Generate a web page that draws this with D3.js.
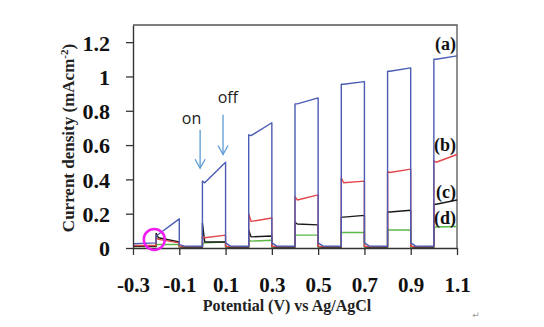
<!DOCTYPE html>
<html>
<head>
<meta charset="utf-8">
<script src="https://cdn.jsdelivr.net/npm/d3@7"></script>
<style>
  body { margin: 0; background: #fff; }
  svg { display: block; }
</style>
</head>
<body>
<svg id="chart" width="544" height="327"></svg>
<script>
const svg = d3.select("#chart");

// potential (V) breakpoints shared by all four curves
const potential = [
  -0.3,
  -0.2, -0.2, -0.19, -0.1, -0.1, -0.08,
  0.0, 0.0, 0.01, 0.1, 0.1, 0.12,
  0.2, 0.2, 0.21, 0.3, 0.3, 0.32,
  0.4, 0.4, 0.41, 0.5, 0.5, 0.52,
  0.6, 0.6, 0.61, 0.7, 0.7, 0.72,
  0.8, 0.8, 0.81, 0.9, 0.9, 0.92,
  1.0, 1.0, 1.01, 1.1
];

// current density (mA cm-2) for each sample
const seriesA = [
  0.025,
  0.03, 0.07, 0.08, 0.17, 0.02, 0.012,
  0.01, 0.39, 0.38, 0.5, 0.03, 0.012,
  0.01, 0.66, 0.655, 0.73, 0.03, 0.012,
  0.01, 0.84, 0.84, 0.875, 0.03, 0.012,
  0.01, 0.955, 0.955, 0.97, 0.03, 0.012,
  0.01, 1.03, 1.03, 1.05, 0.03, 0.012,
  0.01, 1.1, 1.1, 1.12
];
const seriesB = [
  0.015,
  0.015, 0.06, 0.05, 0.03, 0.01, 0.008,
  0.008, 0.07, 0.06, 0.075, 0.01, 0.008,
  0.008, 0.2, 0.155, 0.175, 0.01, 0.008,
  0.008, 0.3, 0.28, 0.31, 0.01, 0.008,
  0.008, 0.41, 0.38, 0.39, 0.01, 0.008,
  0.008, 0.445, 0.44, 0.46, 0.01, 0.008,
  0.008, 0.51, 0.5, 0.545
];
const seriesC = [
  0.01,
  0.01, 0.085, 0.06, 0.035, 0.008, 0.006,
  0.006, 0.145, 0.035, 0.035, 0.008, 0.006,
  0.006, 0.105, 0.065, 0.07, 0.008, 0.006,
  0.006, 0.15, 0.14, 0.135, 0.008, 0.006,
  0.006, 0.18, 0.18, 0.19, 0.008, 0.006,
  0.006, 0.21, 0.21, 0.22, 0.008, 0.006,
  0.006, 0.255, 0.255, 0.28
];
const seriesD = [
  0.008,
  0.008, 0.02, 0.02, 0.02, 0.005, 0.004,
  0.004, 0.025, 0.03, 0.035, 0.005, 0.004,
  0.004, 0.045, 0.04, 0.045, 0.005, 0.004,
  0.004, 0.075, 0.075, 0.075, 0.005, 0.004,
  0.004, 0.09, 0.09, 0.09, 0.005, 0.004,
  0.004, 0.105, 0.105, 0.105, 0.005, 0.004,
  0.004, 0.122, 0.122, 0.125
];

const seriesNames = ["(a)", "(b)", "(c)", "(d)"];
const seriesColors = ["#4a5cb4", "#e2474b", "#1a1a1a", "#5cb84a"];

const xTicks = [-0.3, -0.1, 0.1, 0.3, 0.5, 0.7, 0.9, 1.1];
const xTickLabels = ["-0.3", "-0.1", "0.1", "0.3", "0.5", "0.7", "0.9", "1.1"];
const yTicks = [0, 0.2, 0.4, 0.6, 0.8, 1.0, 1.2];
const yTickLabels = ["0", "0.2", "0.4", "0.6", "0.8", "1", "1.2"];

const x = d3.scaleLinear().domain([-0.3, 1.1]).range([133, 457]);
const y = d3.scaleLinear().domain([0, 1.3]).range([248, 25]);

const serif = "'Liberation Serif', 'Times New Roman', serif";

// frame (top + right)
svg.append("path")
  .attr("d", `M${x(-0.3)},${y(1.3)}H${x(1.1)}V${y(0)}`)
  .attr("fill", "none")
  .attr("stroke", "#555")
  .attr("stroke-width", 1.3);

// curves, (a) drawn last so it sits on top
const line = d3.line()
  .x((d, i) => x(potential[i]))
  .y((d) => y(d));

const allSeries = [seriesA, seriesB, seriesC, seriesD];
for (let k = 3; k >= 0; k--) {
  svg.append("path")
    .datum(allSeries[k])
    .attr("d", line)
    .attr("fill", "none")
    .attr("stroke", seriesColors[k])
    .attr("stroke-width", 1.4)
    .attr("stroke-linejoin", "round");
}

// axes
const xAxis = svg.append("g")
  .attr("transform", `translate(0,${y(0)})`)
  .call(d3.axisBottom(x).tickValues(xTicks)
    .tickFormat((d, i) => xTickLabels[i])
    .tickSizeInner(7).tickSizeOuter(0).tickPadding(22));

const yAxis = svg.append("g")
  .attr("transform", `translate(${x(-0.3)},0)`)
  .call(d3.axisLeft(y).tickValues(yTicks)
    .tickFormat((d, i) => yTickLabels[i])
    .tickSizeInner(7).tickSizeOuter(0).tickPadding(16));

[xAxis, yAxis].forEach((g) => {
  g.select(".domain").attr("stroke", "#333").attr("stroke-width", 1.4);
  g.selectAll(".tick line").attr("stroke", "#333").attr("stroke-width", 1.3);
  g.selectAll(".tick text")
    .attr("fill", "#111")
    .style("font-family", serif)
    .style("font-weight", "bold");
});
xAxis.selectAll(".tick text").style("font-size", "21px");
yAxis.selectAll(".tick text").style("font-size", "22px").attr("dy", "0.36em");

// axis titles
svg.append("text")
  .attr("x", 287)
  .attr("y", 311)
  .attr("text-anchor", "middle")
  .style("font-family", serif)
  .style("font-weight", "bold")
  .style("font-size", "16px")
  .attr("fill", "#222")
  .text("Potential (V) vs Ag/AgCl");

const yTitle = svg.append("text")
  .attr("transform", "translate(74,138) rotate(-90)")
  .attr("text-anchor", "middle")
  .style("font-family", serif)
  .style("font-weight", "bold")
  .style("font-size", "17px")
  .attr("fill", "#222");
yTitle.append("tspan").text("Current density (mAcm");
yTitle.append("tspan").attr("dy", -6).style("font-size", "11px").text("-2");
yTitle.append("tspan").attr("dy", 6).text(")");

// series labels at right edge
const labelY = [1.19, 0.6, 0.33, 0.175];
seriesNames.forEach((name, i) => {
  svg.append("text")
    .attr("x", x(1.1) - 1)
    .attr("y", y(labelY[i]))
    .attr("dy", "0.35em")
    .attr("text-anchor", "end")
    .style("font-family", serif)
    .style("font-weight", "bold")
    .style("font-size", "18px")
    .attr("fill", "#111")
    .text(name);
});

// on / off arrows
const arrowColor = "#5b9bd5";
const arrows = [
  { label: "on", px: -0.01, top: 0.69, tip: 0.465, tx: -0.047, ty: 0.725 },
  { label: "off", px: 0.089, top: 0.777, tip: 0.545, tx: 0.11, ty: 0.845 }
];
arrows.forEach((a) => {
  const ax = x(a.px);
  const ay = y(a.tip);
  svg.append("line")
    .attr("x1", ax).attr("x2", ax)
    .attr("y1", y(a.top)).attr("y2", ay)
    .attr("stroke", arrowColor).attr("stroke-width", 1.3);
  svg.append("path")
    .attr("d", `M${ax - 5},${ay - 9}L${ax},${ay}L${ax + 5},${ay - 9}`)
    .attr("fill", "none")
    .attr("stroke", arrowColor).attr("stroke-width", 1.3);
  svg.append("text")
    .attr("x", x(a.tx))
    .attr("y", y(a.ty))
    .attr("text-anchor", "middle")
    .style("font-family", "'Open Sans', sans-serif")
    .style("font-size", "16px")
    .attr("fill", "#222")
    .text(a.label);
});

// magenta highlight circle
svg.append("circle")
  .attr("cx", x(-0.208))
  .attr("cy", y(0.05))
  .attr("r", 10.5)
  .attr("fill", "none")
  .attr("stroke", "#f01ef0")
  .attr("stroke-width", 2.5);

// stray paragraph mark from the source document
svg.append("text")
  .attr("x", 476)
  .attr("y", 318)
  .attr("text-anchor", "middle")
  .style("font-family", "'DejaVu Sans', sans-serif")
  .style("font-size", "9px")
  .attr("fill", "#999")
  .text("↵");
</script>
</body>
</html>
